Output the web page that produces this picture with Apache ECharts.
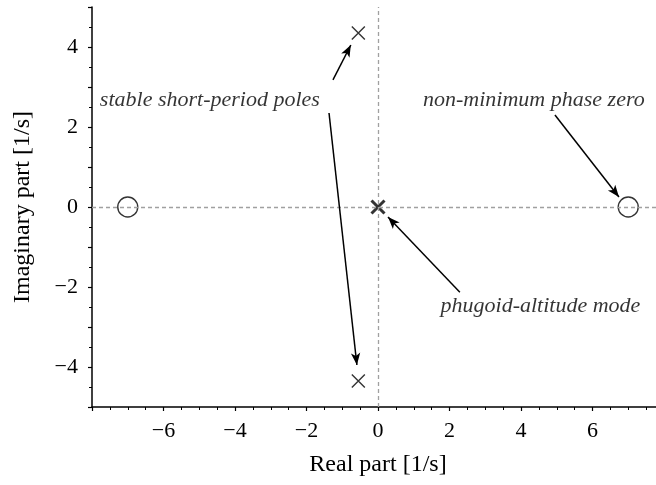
<!DOCTYPE html>
<html>
<head>
<meta charset="utf-8">
<script src="https://cdn.jsdelivr.net/npm/echarts@6/dist/echarts.min.js"></script>
<style>
  html, body { margin: 0; padding: 0; background: #fff; }
  #chart { width: 656px; height: 485px; }
</style>
</head>
<body>
<div id="chart"></div>
<script>
// poles and zeros [real, imag]
const poles = [[-0.55, 4.35], [-0.55, -4.35]];
const originPole = [[0, 0]];
const zeros = [[-7, 0], [7, 0]];

// annotation arrows: [from, to] in data units
const arrows = [
    [[-1.26, 3.18], [-0.76, 4.05]],
    [[-1.37, 2.35], [-0.59, -3.95]],
    [[2.29, -2.13], [0.28, -0.25]],
    [[4.95, 2.30], [6.74, 0.25]]
];
// annotation texts, left edge anchored
const notes = [
    {name: 'stable short-period poles', value: [-7.78, 2.68]},
    {name: 'non-minimum phase zero', value: [1.26, 2.68]},
    {name: 'phugoid-altitude mode', value: [1.75, -2.48]}
];

const FONT = '"Liberation Serif", "DejaVu Serif", serif';
const crossPath = 'path://M0,0L10,10M10,0L0,10';

function fmt(v) {
    if (v < 0) return '\u2212' + Math.abs(v);
    return String(v);
}

const chart = echarts.init(document.getElementById('chart'), null, {renderer: 'canvas'});

chart.setOption({
    backgroundColor: '#fff',
    animation: false,
    // the x axis runs past the right edge of the picture
    grid: {left: 92, top: 7, height: 400, width: 572, containLabel: false, outerBoundsMode: 'none'},
    xAxis: {
        type: 'value', min: -8, max: 8, interval: 2,
        name: 'Real part [1/s]', nameLocation: 'middle', nameGap: 46,
        nameTextStyle: {fontFamily: FONT, fontSize: 24, color: '#000'},
        axisLine: {onZero: false, lineStyle: {color: '#000', width: 1.5}},
        axisTick: {length: 4, lineStyle: {color: '#000', width: 1.2}},
        minorTick: {show: true, splitNumber: 4, length: 3, lineStyle: {color: '#000', width: 1}},
        axisLabel: {
            fontFamily: FONT, fontSize: 22, color: '#000', margin: 13,
            formatter: v => (Math.abs(v) >= 8 ? '' : fmt(v))
        },
        splitLine: {show: false}
    },
    yAxis: {
        type: 'value', min: -5, max: 5, interval: 1,
        name: 'Imaginary part [1/s]', nameLocation: 'middle', nameGap: 57,
        nameTextStyle: {fontFamily: FONT, fontSize: 24, color: '#000'},
        axisLine: {onZero: false, lineStyle: {color: '#000', width: 1.5}},
        axisTick: {length: 4, lineStyle: {color: '#000', width: 1.2}},
        minorTick: {show: true, splitNumber: 2, length: 3, lineStyle: {color: '#000', width: 1}},
        axisLabel: {
            fontFamily: FONT, fontSize: 22, color: '#000', margin: 14,
            formatter: v => (v % 2 === 0 ? fmt(v) : '')
        },
        splitLine: {show: false}
    },
    series: [
        {
            // dashed zero lines
            type: 'scatter', data: [], silent: true,
            markLine: {
                silent: true, symbol: 'none', label: {show: false},
                lineStyle: {color: '#a0a0a0', type: [4, 3], width: 1.3},
                data: [{xAxis: 0}, {yAxis: 0}]
            }
        },
        {
            type: 'scatter', data: zeros, symbol: 'circle', symbolSize: 20,
            itemStyle: {color: 'transparent', borderColor: '#000', borderWidth: 1.4}
        },
        {
            type: 'scatter', data: poles, symbol: crossPath, symbolSize: 13,
            itemStyle: {color: 'none', borderColor: '#000', borderWidth: 1.4}
        },
        {
            type: 'scatter', data: originPole, symbol: crossPath, symbolSize: 13,
            itemStyle: {color: 'none', borderColor: '#000', borderWidth: 3}
        },
        {
            type: 'scatter', data: [], silent: true,
            markLine: {
                silent: true, symbol: ['none', 'arrow'], symbolSize: [7, 12],
                label: {show: false},
                lineStyle: {color: '#000', type: 'solid', width: 1.5},
                data: arrows.map(a => [{coord: a[0]}, {coord: a[1]}])
            }
        },
        {
            type: 'scatter', data: notes, symbolSize: 0, silent: true,
            label: {
                show: true, position: 'inside', align: 'left', verticalAlign: 'middle',
                formatter: p => p.name,
                fontFamily: FONT, fontStyle: 'italic', fontSize: 22, color: '#000'
            }
        }
    ]
});
</script>
</body>
</html>
